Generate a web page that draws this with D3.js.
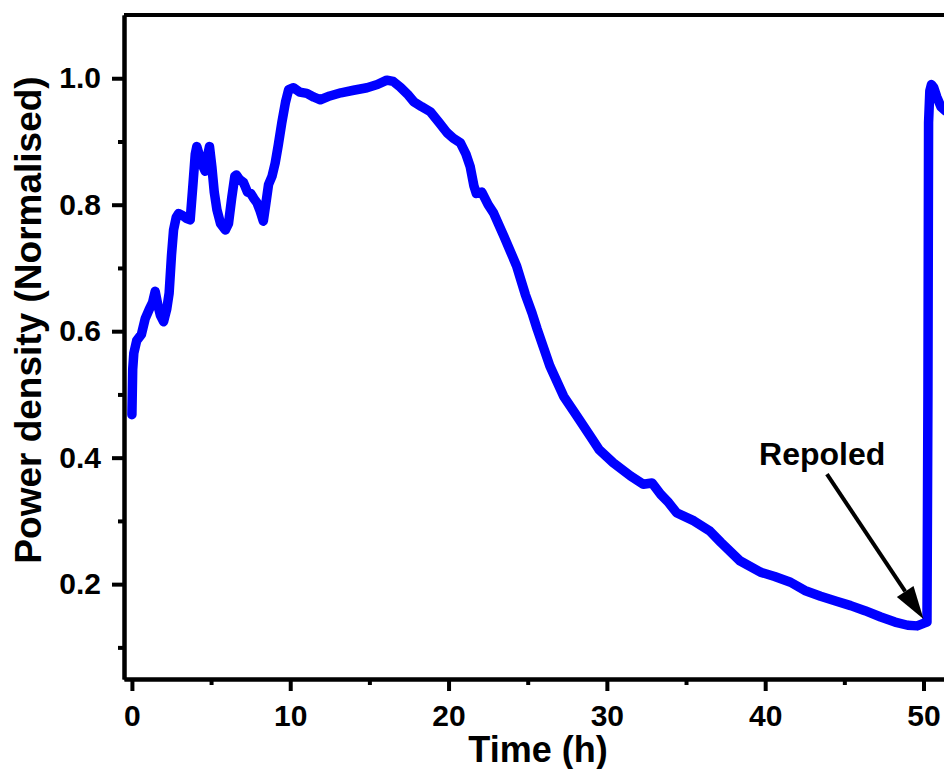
<!DOCTYPE html>
<html>
<head>
<meta charset="utf-8">
<script src="https://cdn.jsdelivr.net/npm/d3@7"></script>
<style>
  body { margin: 0; background: #fff; overflow: hidden; }
  svg { display: block; }
  .axis path, .axis line { stroke: #000; stroke-width: 4; }
  .axis text { font-family: "Liberation Sans", Arial, sans-serif; font-weight: bold; font-size: 30px; fill: #000; }
  .label { font-family: "Liberation Sans", Arial, sans-serif; font-weight: bold; fill: #000; }
</style>
</head>
<body>
<div id="chart"></div>
<script>
// data
var time_h = [0.0, 0.05, 0.12, 0.3, 0.6, 0.84, 1.1, 1.3, 1.47, 1.65, 1.8, 2.0, 2.2, 2.35, 2.5, 2.63, 2.8, 2.95,
  3.2, 3.47, 3.68, 3.85, 4.0, 4.1, 4.3, 4.5, 4.63, 4.8, 4.9, 5.05, 5.2, 5.37, 5.6, 5.9, 6.1, 6.3, 6.5, 6.6,
  6.8, 7.05, 7.3, 7.5, 7.7, 7.9, 8.1, 8.3, 8.45, 8.63, 8.85, 9.05, 9.25, 9.47, 9.7, 9.9, 10.2, 10.6, 11.05,
  11.5, 11.9, 12.5, 13.2, 14.0, 14.85, 15.5, 16.1, 16.5, 16.95, 17.4, 17.8, 18.3, 18.85, 19.4, 19.9, 20.3,
  20.74, 21.1, 21.37, 21.6, 21.75, 22.1, 22.5, 22.84, 23.5, 24.3, 24.85, 25.27, 25.6, 26.4, 27.27, 28.1,
  28.95, 29.5, 30.4, 31.5, 32.3, 32.85, 33.4, 33.9, 34.4, 35.5, 36.5, 37.2, 38.4, 39.7, 40.6, 41.6, 42.5,
  43.5, 44.5, 45.4, 46.3, 47.3, 48.2, 49.0, 49.6, 50.0, 50.22, 50.28, 50.32, 50.4, 50.5, 50.65, 50.85,
  51.1, 51.4, 51.8];
var power_norm = [0.468, 0.54, 0.565, 0.585, 0.595, 0.62, 0.635, 0.645, 0.663, 0.64, 0.625, 0.615, 0.635,
  0.66, 0.72, 0.76, 0.78, 0.786, 0.783, 0.778, 0.776, 0.83, 0.88, 0.892, 0.875, 0.86, 0.853, 0.88, 0.892,
  0.86, 0.82, 0.792, 0.77, 0.76, 0.77, 0.81, 0.845, 0.847, 0.84, 0.835, 0.82, 0.818, 0.81, 0.803, 0.79,
  0.774, 0.8, 0.832, 0.845, 0.866, 0.895, 0.93, 0.962, 0.982, 0.985, 0.978, 0.976, 0.97, 0.966, 0.972,
  0.977, 0.981, 0.985, 0.99, 0.997, 0.995, 0.986, 0.975, 0.963, 0.955, 0.947, 0.93, 0.914, 0.905, 0.898,
  0.88, 0.86, 0.83, 0.818, 0.82, 0.8, 0.787, 0.75, 0.703, 0.658, 0.629, 0.603, 0.545, 0.497, 0.466, 0.434,
  0.413, 0.392, 0.371, 0.358, 0.36, 0.342, 0.329, 0.313, 0.3, 0.284, 0.266, 0.237, 0.219, 0.212, 0.203,
  0.19, 0.181, 0.173, 0.166, 0.158, 0.148, 0.14, 0.135, 0.134, 0.138, 0.14, 0.5, 0.93, 0.98, 0.99, 0.985,
  0.97, 0.955, 0.948, 0.95];
var x_major = [0, 10, 20, 30, 40, 50];
var x_minor = [5, 15, 25, 35, 45];
var y_major = [0.2, 0.4, 0.6, 0.8, 1.0];
var y_minor = [0.1, 0.3, 0.5, 0.7, 0.9];
var x_domain = [-0.5, 51.8];
var y_domain = [0.05, 1.1];
// annotation: text anchor and arrow tail / tip in data units
var note_text = "Repoled";
var note_pos = [43.6, 0.388];
var arrow_tail = [43.9, 0.374];
var arrow_tip = [50.0, 0.145];

var W = 944, H = 769;
var margin = {top: 15, left: 124};
var width = 828;
var height = 664;

var svg = d3.select("#chart")
  .append("svg")
  .attr("width", W)
  .attr("height", H);

var g = svg.append("g")
  .attr("transform", "translate(" + margin.left + "," + margin.top + ")");

var xScale = d3.scaleLinear().domain(x_domain).range([0, width]);
var yScale = d3.scaleLinear().domain(y_domain).range([height, 0]);

// frame (top and right)
g.append("line").attr("x1", 0).attr("x2", width).attr("y1", 0).attr("y2", 0)
  .attr("stroke", "#000").attr("stroke-width", 4);
g.append("line").attr("x1", width).attr("x2", width).attr("y1", 0).attr("y2", height)
  .attr("stroke", "#000").attr("stroke-width", 4);

// minor ticks
g.append("g").attr("class", "axis")
  .attr("transform", "translate(0," + height + ")")
  .call(d3.axisBottom(xScale).tickValues(x_minor).tickSize(6).tickSizeOuter(0).tickFormat(""));
g.append("g").attr("class", "axis")
  .call(d3.axisLeft(yScale).tickValues(y_minor).tickSize(6).tickSizeOuter(0).tickFormat(""));

// major axes
g.append("g").attr("class", "axis")
  .attr("transform", "translate(0," + height + ")")
  .call(d3.axisBottom(xScale).tickValues(x_major).tickSize(12).tickSizeOuter(0).tickPadding(14)
    .tickFormat(d3.format("d")));
g.append("g").attr("class", "axis")
  .call(d3.axisLeft(yScale).tickValues(y_major).tickSize(12).tickSizeOuter(0).tickPadding(11)
    .tickFormat(d3.format(".1f")));

// clip
svg.append("clipPath").attr("id", "clip")
  .append("rect").attr("width", width).attr("height", height);

var data = time_h.map(function(t, i) { return {t: t, v: power_norm[i]}; });

var line = d3.line()
  .x(function(d) { return xScale(d.t); })
  .y(function(d) { return yScale(d.v); });

g.append("path")
  .datum(data)
  .attr("clip-path", "url(#clip)")
  .attr("fill", "none")
  .attr("stroke", "#0000ff")
  .attr("stroke-width", 9.5)
  .attr("stroke-linejoin", "round")
  .attr("stroke-linecap", "round")
  .attr("d", line);

// annotation arrow
var x1 = xScale(arrow_tail[0]), y1 = yScale(arrow_tail[1]);
var x2 = xScale(arrow_tip[0]), y2 = yScale(arrow_tip[1]);
var ang = Math.atan2(y2 - y1, x2 - x1);
var headLen = 33, headHalf = 10;
var bx = x2 - headLen * Math.cos(ang), by = y2 - headLen * Math.sin(ang);
g.append("line")
  .attr("x1", x1).attr("y1", y1).attr("x2", bx).attr("y2", by)
  .attr("stroke", "#000").attr("stroke-width", 4);
g.append("polygon")
  .attr("points", [
    [x2, y2],
    [bx + headHalf * Math.sin(ang), by - headHalf * Math.cos(ang)],
    [bx - headHalf * Math.sin(ang), by + headHalf * Math.cos(ang)]
  ].map(function(p) { return p.join(","); }).join(" "))
  .attr("fill", "#000");

g.append("text")
  .attr("class", "label")
  .attr("x", xScale(note_pos[0]))
  .attr("y", yScale(note_pos[1]))
  .attr("text-anchor", "middle")
  .style("font-size", "32px")
  .text(note_text);

// axis titles
svg.append("text")
  .attr("class", "label")
  .attr("x", margin.left + width / 2)
  .attr("y", 762)
  .attr("text-anchor", "middle")
  .style("font-size", "36px")
  .text("Time (h)");

svg.append("text")
  .attr("class", "label")
  .attr("transform", "translate(41," + 320 + ") rotate(-90)")
  .attr("text-anchor", "middle")
  .style("font-size", "37px")
  .text("Power density (Normalised)");
</script>
</body>
</html>
